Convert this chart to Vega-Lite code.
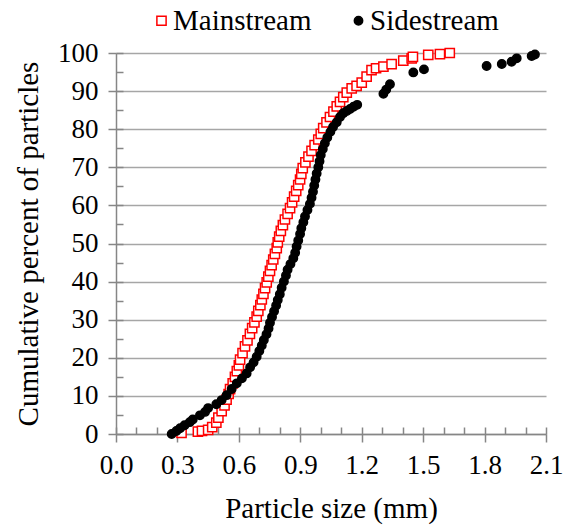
{
  "$schema": "https://vega.github.io/schema/vega-lite/v6.json",
  "width": 430,
  "height": 381,
  "autosize": "none",
  "padding": {"left": 116, "top": 53, "right": 19, "bottom": 93},
  "background": "white",
  "config": {
    "view": {"stroke": null},
    "axis": {"labelFont": "Liberation Serif", "titleFont": "Liberation Serif", "labelColor": "black", "titleColor": "black", "titleFontWeight": "normal", "domainColor": "#868686", "tickColor": "#868686", "domainWidth": 1.5, "tickWidth": 1.5, "labelFlush": false, "labelOverlap": false},
    "legend": {"labelFont": "Liberation Serif", "titleFont": "Liberation Serif"}
  },
  "datasets": {
    "pts": [
      {"s": "Mainstream", "x": 0.32, "y": 0.3}, {"s": "Mainstream", "x": 0.40, "y": 0.6}, {"s": "Mainstream", "x": 0.42, "y": 0.8}, {"s": "Mainstream", "x": 0.45, "y": 1.1},
      {"s": "Mainstream", "x": 0.47, "y": 1.8}, {"s": "Mainstream", "x": 0.49, "y": 3.0}, {"s": "Mainstream", "x": 0.50, "y": 4.3}, {"s": "Mainstream", "x": 0.516, "y": 6.0},
      {"s": "Mainstream", "x": 0.53, "y": 7.5}, {"s": "Mainstream", "x": 0.54, "y": 9.0}, {"s": "Mainstream", "x": 0.55, "y": 10.5}, {"s": "Mainstream", "x": 0.557, "y": 11.8},
      {"s": "Mainstream", "x": 0.57, "y": 13.3}, {"s": "Mainstream", "x": 0.581, "y": 15.0}, {"s": "Mainstream", "x": 0.59, "y": 16.5}, {"s": "Mainstream", "x": 0.60, "y": 18.0},
      {"s": "Mainstream", "x": 0.606, "y": 19.5}, {"s": "Mainstream", "x": 0.618, "y": 21.2}, {"s": "Mainstream", "x": 0.63, "y": 23.0}, {"s": "Mainstream", "x": 0.642, "y": 24.6},
      {"s": "Mainstream", "x": 0.654, "y": 26.3}, {"s": "Mainstream", "x": 0.665, "y": 27.8}, {"s": "Mainstream", "x": 0.676, "y": 29.3}, {"s": "Mainstream", "x": 0.687, "y": 30.8},
      {"s": "Mainstream", "x": 0.695, "y": 32.3}, {"s": "Mainstream", "x": 0.705, "y": 33.8}, {"s": "Mainstream", "x": 0.712, "y": 35.3}, {"s": "Mainstream", "x": 0.72, "y": 36.8},
      {"s": "Mainstream", "x": 0.728, "y": 38.3}, {"s": "Mainstream", "x": 0.736, "y": 39.8}, {"s": "Mainstream", "x": 0.744, "y": 41.3}, {"s": "Mainstream", "x": 0.752, "y": 42.8},
      {"s": "Mainstream", "x": 0.76, "y": 44.3}, {"s": "Mainstream", "x": 0.768, "y": 45.8}, {"s": "Mainstream", "x": 0.776, "y": 47.3}, {"s": "Mainstream", "x": 0.785, "y": 48.8},
      {"s": "Mainstream", "x": 0.79, "y": 50.3}, {"s": "Mainstream", "x": 0.797, "y": 51.8}, {"s": "Mainstream", "x": 0.805, "y": 53.3}, {"s": "Mainstream", "x": 0.815, "y": 54.8},
      {"s": "Mainstream", "x": 0.825, "y": 56.3}, {"s": "Mainstream", "x": 0.838, "y": 57.8}, {"s": "Mainstream", "x": 0.85, "y": 59.3}, {"s": "Mainstream", "x": 0.86, "y": 60.8},
      {"s": "Mainstream", "x": 0.87, "y": 62.3}, {"s": "Mainstream", "x": 0.88, "y": 63.8}, {"s": "Mainstream", "x": 0.89, "y": 65.3}, {"s": "Mainstream", "x": 0.899, "y": 66.8},
      {"s": "Mainstream", "x": 0.905, "y": 68.3}, {"s": "Mainstream", "x": 0.912, "y": 69.8}, {"s": "Mainstream", "x": 0.925, "y": 71.3}, {"s": "Mainstream", "x": 0.94, "y": 72.8},
      {"s": "Mainstream", "x": 0.955, "y": 74.3}, {"s": "Mainstream", "x": 0.97, "y": 75.8}, {"s": "Mainstream", "x": 0.988, "y": 77.3}, {"s": "Mainstream", "x": 1.0, "y": 78.8},
      {"s": "Mainstream", "x": 1.012, "y": 80.3}, {"s": "Mainstream", "x": 1.028, "y": 81.8}, {"s": "Mainstream", "x": 1.045, "y": 83.2}, {"s": "Mainstream", "x": 1.062, "y": 84.6},
      {"s": "Mainstream", "x": 1.078, "y": 86.0}, {"s": "Mainstream", "x": 1.094, "y": 87.2}, {"s": "Mainstream", "x": 1.11, "y": 88.4}, {"s": "Mainstream", "x": 1.127, "y": 89.6},
      {"s": "Mainstream", "x": 1.151, "y": 90.7}, {"s": "Mainstream", "x": 1.175, "y": 91.4}, {"s": "Mainstream", "x": 1.2, "y": 92.2}, {"s": "Mainstream", "x": 1.224, "y": 93.8},
      {"s": "Mainstream", "x": 1.248, "y": 95.5}, {"s": "Mainstream", "x": 1.27, "y": 96.0}, {"s": "Mainstream", "x": 1.306, "y": 96.4}, {"s": "Mainstream", "x": 1.346, "y": 97.1},
      {"s": "Mainstream", "x": 1.403, "y": 98.0}, {"s": "Mainstream", "x": 1.444, "y": 98.6}, {"s": "Mainstream", "x": 1.45, "y": 99.0}, {"s": "Mainstream", "x": 1.525, "y": 99.5},
      {"s": "Mainstream", "x": 1.582, "y": 99.7}, {"s": "Mainstream", "x": 1.63, "y": 100.0},
      {"s": "Sidestream", "x": 0.272, "y": 0.0}, {"s": "Sidestream", "x": 0.295, "y": 0.8}, {"s": "Sidestream", "x": 0.313, "y": 1.5}, {"s": "Sidestream", "x": 0.335, "y": 2.3},
      {"s": "Sidestream", "x": 0.36, "y": 3.1}, {"s": "Sidestream", "x": 0.375, "y": 3.8}, {"s": "Sidestream", "x": 0.41, "y": 4.9}, {"s": "Sidestream", "x": 0.435, "y": 5.8},
      {"s": "Sidestream", "x": 0.45, "y": 6.8}, {"s": "Sidestream", "x": 0.49, "y": 7.8}, {"s": "Sidestream", "x": 0.516, "y": 8.9}, {"s": "Sidestream", "x": 0.54, "y": 10.2},
      {"s": "Sidestream", "x": 0.565, "y": 11.8}, {"s": "Sidestream", "x": 0.59, "y": 13.3}, {"s": "Sidestream", "x": 0.615, "y": 14.6}, {"s": "Sidestream", "x": 0.638, "y": 15.9},
      {"s": "Sidestream", "x": 0.655, "y": 17.5}, {"s": "Sidestream", "x": 0.672, "y": 18.8}, {"s": "Sidestream", "x": 0.687, "y": 20.3}, {"s": "Sidestream", "x": 0.70, "y": 21.8},
      {"s": "Sidestream", "x": 0.712, "y": 23.2}, {"s": "Sidestream", "x": 0.722, "y": 24.7}, {"s": "Sidestream", "x": 0.735, "y": 26.2}, {"s": "Sidestream", "x": 0.745, "y": 27.7},
      {"s": "Sidestream", "x": 0.752, "y": 29.2}, {"s": "Sidestream", "x": 0.762, "y": 30.7}, {"s": "Sidestream", "x": 0.772, "y": 32.2}, {"s": "Sidestream", "x": 0.782, "y": 33.7},
      {"s": "Sidestream", "x": 0.79, "y": 35.2}, {"s": "Sidestream", "x": 0.80, "y": 36.7}, {"s": "Sidestream", "x": 0.809, "y": 38.4}, {"s": "Sidestream", "x": 0.82, "y": 40.0},
      {"s": "Sidestream", "x": 0.83, "y": 41.6}, {"s": "Sidestream", "x": 0.838, "y": 43.1}, {"s": "Sidestream", "x": 0.852, "y": 44.6}, {"s": "Sidestream", "x": 0.866, "y": 46.1},
      {"s": "Sidestream", "x": 0.875, "y": 47.6}, {"s": "Sidestream", "x": 0.882, "y": 49.2}, {"s": "Sidestream", "x": 0.89, "y": 50.8}, {"s": "Sidestream", "x": 0.899, "y": 52.5},
      {"s": "Sidestream", "x": 0.905, "y": 54.0}, {"s": "Sidestream", "x": 0.915, "y": 55.6}, {"s": "Sidestream", "x": 0.923, "y": 57.1}, {"s": "Sidestream", "x": 0.935, "y": 58.8},
      {"s": "Sidestream", "x": 0.947, "y": 60.4}, {"s": "Sidestream", "x": 0.955, "y": 62.0}, {"s": "Sidestream", "x": 0.962, "y": 63.6}, {"s": "Sidestream", "x": 0.968, "y": 65.2},
      {"s": "Sidestream", "x": 0.974, "y": 66.8}, {"s": "Sidestream", "x": 0.98, "y": 68.4}, {"s": "Sidestream", "x": 0.988, "y": 70.0}, {"s": "Sidestream", "x": 0.994, "y": 71.6},
      {"s": "Sidestream", "x": 1.0, "y": 73.2}, {"s": "Sidestream", "x": 1.01, "y": 74.8}, {"s": "Sidestream", "x": 1.02, "y": 76.3}, {"s": "Sidestream", "x": 1.032, "y": 77.8},
      {"s": "Sidestream", "x": 1.047, "y": 79.3}, {"s": "Sidestream", "x": 1.06, "y": 80.6}, {"s": "Sidestream", "x": 1.078, "y": 81.8}, {"s": "Sidestream", "x": 1.094, "y": 83.2},
      {"s": "Sidestream", "x": 1.11, "y": 84.2}, {"s": "Sidestream", "x": 1.127, "y": 84.8}, {"s": "Sidestream", "x": 1.143, "y": 85.3}, {"s": "Sidestream", "x": 1.16, "y": 85.9},
      {"s": "Sidestream", "x": 1.178, "y": 86.4}, {"s": "Sidestream", "x": 1.306, "y": 89.3}, {"s": "Sidestream", "x": 1.32, "y": 90.4}, {"s": "Sidestream", "x": 1.338, "y": 91.8},
      {"s": "Sidestream", "x": 1.452, "y": 94.9}, {"s": "Sidestream", "x": 1.504, "y": 95.7}, {"s": "Sidestream", "x": 1.81, "y": 96.6}, {"s": "Sidestream", "x": 1.884, "y": 97.1},
      {"s": "Sidestream", "x": 1.932, "y": 97.7}, {"s": "Sidestream", "x": 1.957, "y": 98.6}, {"s": "Sidestream", "x": 2.03, "y": 99.2}, {"s": "Sidestream", "x": 2.046, "y": 99.6}
    ]
  },
  "data": {"name": "pts"},
  "resolve": {"axis": {"x": "independent", "y": "independent"}},
  "layer": [
    {
      "mark": {"type": "point", "opacity": 0},
      "encoding": {
        "x": {"field": "x", "type": "quantitative", "scale": {"domain": [0, 2.1], "nice": false, "zero": false},
          "axis": {"orient": "bottom", "values": [0,0.1,0.2,0.3,0.4,0.5,0.6,0.7,0.8,0.9,1.0,1.1,1.2,1.3,1.4,1.5,1.6,1.7,1.8,1.9,2.0,2.1], "tickSize": -7, "labels": false, "domain": false, "grid": false, "title": null}},
        "y": {"field": "y", "type": "quantitative", "scale": {"domain": [0, 100], "nice": false},
          "axis": {"orient": "left", "values": [0,5,10,15,20,25,30,35,40,45,50,55,60,65,70,75,80,85,90,95,100], "tickSize": -7, "labels": false, "domain": false, "grid": false, "title": null}}
      }
    },
    {
      "mark": {"type": "point", "opacity": 1, "strokeWidth": 1.5},
      "encoding": {
        "x": {"field": "x", "type": "quantitative", "scale": {"domain": [0, 2.1], "nice": false, "zero": false},
          "axis": {"orient": "bottom", "values": [0,0.3,0.6,0.9,1.2,1.5,1.8,2.1], "format": ".1f", "tickSize": 8, "labelFont": "Liberation Serif", "labelFontSize": 27, "labelPadding": 10, "labelFlush": false, "grid": false, "title": "Particle size (mm)", "titleFont": "Liberation Serif", "titleFontSize": 29, "titlePadding": 16}},
        "y": {"field": "y", "type": "quantitative", "scale": {"domain": [0, 100], "nice": false},
          "axis": {"orient": "left", "values": [0,10,20,30,40,50,60,70,80,90,100], "tickSize": 8, "labelFont": "Liberation Serif", "labelFontSize": 27, "labelPadding": 10, "grid": true, "gridColor": "#A6A6A6", "gridWidth": 1.5, "title": "Cumulative percent of particles", "titleFont": "Liberation Serif", "titleFontSize": 29, "titlePadding": 14}},
        "shape": {"field": "s", "type": "nominal", "scale": {"domain": ["Mainstream", "Sidestream"], "range": ["square", "circle"]}, "title": null,
          "legend": {"orient": "none", "direction": "horizontal", "legendX": 31, "legendY": -47, "labelFontSize": 29, "labelFont": "Liberation Serif", "labelColor": "black", "labelLimit": 300, "symbolStrokeWidth": 1.5, "columnPadding": 32, "labelOffset": -3, "padding": 0}},
        "fill": {"field": "s", "type": "nominal", "scale": {"domain": ["Mainstream", "Sidestream"], "range": ["white", "black"]}, "title": null},
        "stroke": {"field": "s", "type": "nominal", "scale": {"domain": ["Mainstream", "Sidestream"], "range": ["#FF0000", "black"]}, "title": null},
        "size": {"field": "s", "type": "nominal", "scale": {"domain": ["Mainstream", "Sidestream"], "range": [85, 70]}, "title": null}
      }
    }
  ]
}
